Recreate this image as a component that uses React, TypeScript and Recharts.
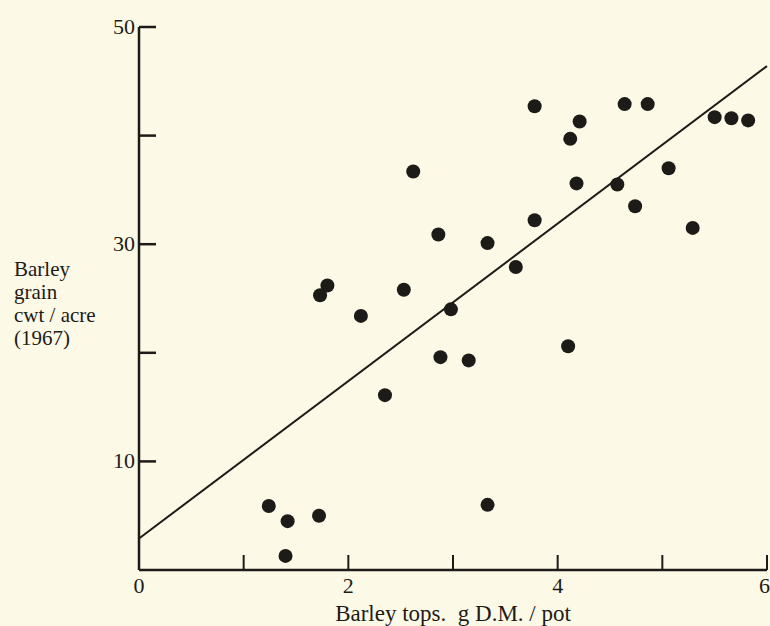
import React from "react";
import {
  ScatterChart,
  Scatter,
  XAxis,
  YAxis,
  Label,
} from "recharts";

// Barley tops (g D.M. / pot) vs barley grain (cwt / acre, 1967)
const topsX = [
  1.24, 1.42, 1.72, 1.4, 1.73, 1.8, 2.12, 2.35, 2.53, 2.62, 2.86, 2.88, 2.98,
  3.15, 3.33, 3.33, 3.6, 3.78, 3.78, 4.1, 4.12, 4.18, 4.21, 4.57, 4.64, 4.74,
  4.86, 5.06, 5.29, 5.5, 5.66, 5.82,
];
const grainY = [
  5.9, 4.5, 5.0, 1.3, 25.3, 26.2, 23.4, 16.1, 25.8, 36.7, 30.9, 19.6, 24.0,
  19.3, 30.1, 6.0, 27.9, 32.2, 42.7, 20.6, 39.7, 35.6, 41.3, 35.5, 42.9, 33.5,
  42.9, 37.0, 31.5, 41.7, 41.6, 41.4,
];

// fitted regression line, end points
const fitX = [0, 6];
const fitY = [2.9, 46.4];

const xTicks = [0, 1, 2, 3, 4, 5, 6];
const yTicks = [10, 20, 30, 40, 50];
const yLabelLines = ["Barley", "grain", "cwt / acre", "(1967)"];

const ink = "#1d1b18";
const paper = "#fcf9e6";
const font = '"Liberation Serif", "DejaVu Serif", serif';

const points = topsX.map((x, i) => ({ x, y: grainY[i] }));
const fit = fitX.map((x, i) => ({ x, y: fitY[i] }));

function XTick(props: any) {
  const { x, y, payload } = props;
  const v = payload.value;
  const last = v === 6;
  return (
    <g>
      {v !== 0 && (
        <line x1={x} x2={x} y1={y} y2={y - 15} stroke={ink} strokeWidth={2} />
      )}
      {v % 2 === 0 && (
        <text
          x={last ? x + 3 : x}
          y={y + 23}
          textAnchor={last ? "end" : "middle"}
          fill={ink}
          fontSize={22}
          fontFamily={font}
        >
          {v}
        </text>
      )}
    </g>
  );
}

function YTick(props: any) {
  const { x, y, payload } = props;
  const v = payload.value;
  return (
    <g>
      <line x1={x} x2={x + 17} y1={y} y2={y} stroke={ink} strokeWidth={2.5} />
      {v % 20 === 10 && (
        <text
          x={x - 4}
          y={y + 7}
          textAnchor="end"
          fill={ink}
          fontSize={22}
          fontFamily={font}
        >
          {v}
        </text>
      )}
    </g>
  );
}

function YTitle() {
  return (
    <text x={14} y={276} fill={ink} fontSize={21} fontFamily={font}>
      {yLabelLines.map((t, i) => (
        <tspan key={t} x={14} dy={i === 0 ? 0 : 23}>
          {t}
        </tspan>
      ))}
    </text>
  );
}

export default function App() {
  return (
    <div
      style={{
        position: "absolute",
        left: 0,
        top: 0,
        width: 770,
        height: 626,
        background: paper,
        overflow: "hidden",
      }}
    >
      <ScatterChart
        width={770}
        height={626}
        margin={{ top: 27, right: 3, bottom: 0, left: 0 }}
      >
        <XAxis
          type="number"
          dataKey="x"
          domain={[0, 6]}
          ticks={xTicks}
          interval={0}
          height={56}
          tickSize={0}
          tickMargin={0}
          tickLine={false}
          tick={<XTick />}
          axisLine={{ stroke: ink, strokeWidth: 2.5 }}
        >
          <Label
            value={"Barley tops.\u00a0\u00a0g D.M. / pot"}
            position="insideBottom"
            offset={5}
            fill={ink}
            fontSize={23}
            fontFamily={font}
          />
        </XAxis>
        <YAxis
          type="number"
          dataKey="y"
          domain={[0, 50]}
          ticks={yTicks}
          interval={0}
          width={139}
          tickSize={0}
          tickMargin={0}
          tickLine={false}
          tick={<YTick />}
          axisLine={{ stroke: ink, strokeWidth: 2.5 }}
        >
          <Label content={<YTitle />} />
        </YAxis>
        <Scatter
          data={fit}
          line={{ stroke: ink, strokeWidth: 2 }}
          shape={() => null}
          isAnimationActive={false}
        />
        <Scatter
          data={points}
          fill={ink}
          shape={(p: any) => (
            <circle cx={p.cx} cy={p.cy} r={7} fill={ink} />
          )}
          isAnimationActive={false}
        />
      </ScatterChart>
    </div>
  );
}
